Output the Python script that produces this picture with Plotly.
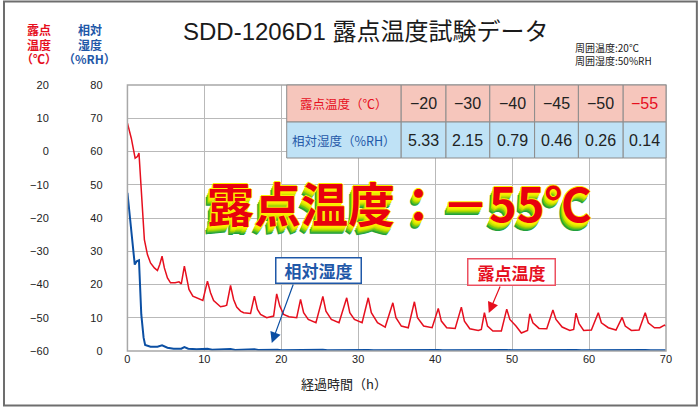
import plotly.graph_objects as go

# ---------------- data ----------------
dew_t = [0, 0.5, 1.0, 1.3, 1.5, 1.8, 2.2, 2.6, 3.0, 3.5, 3.9, 4.2, 4.5, 4.8, 5.2, 5.6, 6.2, 6.7, 7.0, 7.4, 7.7,
         8.0, 8.5, 9.1, 9.8, 10.4, 10.8, 11.2, 11.7, 12.1, 12.6, 12.9, 13.4, 13.8, 14.2, 14.7, 15.1, 16.0,
         16.5, 16.9, 17.3, 18.1, 19.0, 19.4, 19.8, 20.3, 21.0, 22.0, 22.5, 22.9, 23.5, 24.5, 25.4, 25.8,
         26.5, 27.5, 28.5, 28.9, 29.5, 30.5, 31.3, 31.7, 32.5, 33.5, 34.5, 34.9, 35.6, 36.5, 37.3, 37.7,
         38.5, 39.6, 40.4, 40.8, 41.5, 42.6, 43.4, 43.8, 44.5, 45.6, 46.0, 46.4, 46.8, 47.5, 48.6, 49.3,
         49.7, 50.5, 51.2, 52.0, 52.3, 52.7, 53.5, 54.5, 55.3, 55.7, 56.5, 57.5, 58.0, 58.3, 58.7, 59.3,
         60.3, 61.2, 61.6, 62.5, 63.5, 64.3, 64.7, 65.5, 66.5, 67.3, 67.7, 68.5, 69.2, 69.8, 70.0]
dew_v = [8.5, 4.0, -2.0, -1.5, -0.5, -12.0, -26.5, -31.0, -33.5, -35.0, -35.8, -34.0, -31.5, -35.0, -38.0,
         -39.5, -39.5, -39.2, -39.8, -34.5, -38.0, -41.5, -43.5, -44.2, -44.8, -39.0, -42.5, -44.8, -46.0,
         -46.7, -46.5, -46.2, -40.3, -44.5, -46.8, -48.0, -48.5, -48.7, -43.5, -47.5, -49.0, -50.0, -49.5,
         -42.8, -46.5, -49.0, -49.7, -50.0, -44.5, -48.5, -50.5, -51.5, -43.6, -48.0, -50.5, -51.5, -44.0,
         -48.5, -50.5, -51.5, -44.0, -48.5, -51.5, -52.8, -45.5, -50.0, -52.5, -53.0, -45.2, -50.0, -52.5,
         -53.0, -47.2, -51.0, -53.0, -53.2, -46.8, -51.0, -53.3, -53.8, -53.5, -48.5, -52.5, -54.0, -54.0,
         -47.4, -50.5, -52.5, -54.6, -53.8, -48.8, -51.5, -53.2, -53.3, -47.7, -50.5, -52.8, -53.8, -53.5,
         -48.6, -51.8, -53.8, -53.7, -48.5, -51.5, -53.0, -53.7, -49.9, -52.5, -53.8, -53.7, -48.5, -51.5,
         -53.0, -53.0, -52.2, -52.5]

rh_t = [0, 0.5, 0.95, 1.2, 1.5, 1.8, 2.1, 2.3, 3.0, 3.9, 4.5, 5.2, 6.0, 7.0, 7.4, 7.9, 9.0, 10.4, 11.0,
        13.4, 14.0, 16.5, 17.0, 19.5, 20.0, 25.4, 26.0, 31.3, 32.0, 40.4, 41.0, 49.3, 50.0, 58.3, 59.0,
        67.3, 68.0, 70.0]
rh_v = [47.6, 37.0, 26.0, 27.0, 27.3, 11.0, 4.0, 1.8, 1.3, 1.3, 1.7, 1.0, 0.7, 0.7, 1.2, 0.7, 0.5, 0.7, 0.4,
        0.6, 0.3, 0.5, 0.3, 0.4, 0.2, 0.35, 0.2, 0.3, 0.2, 0.3, 0.2, 0.3, 0.2, 0.3, 0.2, 0.3, 0.2, 0.2]

table_dew = [-20, -30, -40, -45, -50, -55]
table_rh = [5.33, 2.15, 0.79, 0.46, 0.26, 0.14]

x_ticks = [0, 10, 20, 30, 40, 50, 60, 70]
rh_ticks = [0, 10, 20, 30, 40, 50, 60, 70, 80]
dew_ticks = [-60, -50, -40, -30, -20, -10, 0, 10, 20]

RED = "#e60f1e"
BLUE = "#0b4fa3"
TXT_BLUE = "#1f58a8"
JP = "Noto Sans CJK JP"

W, H = 700, 408
ML, MR, MT, MB = 0, 34, 85, 57
PW = W - ML - MR     # 666
PH = H - MT - MB     # 266

def px(x):  # pixel x -> paper
    return (x - ML) / PW

def py(y):  # pixel y -> paper
    return 1 - (y - MT) / PH

fig = go.Figure()
fig.add_trace(go.Scatter(x=dew_t, y=dew_v, yaxis="y2", mode="lines",
                         line=dict(color=RED, width=1.5), hoverinfo="skip"))
fig.add_trace(go.Scatter(x=rh_t, y=rh_v, yaxis="y", mode="lines",
                         line=dict(color=BLUE, width=2), hoverinfo="skip"))

tickfont = dict(family="Liberation Sans, Arial", size=11, color="#222")
fig.update_layout(
    width=W, height=H, margin=dict(l=ML, r=MR, t=MT, b=MB),
    paper_bgcolor="white", plot_bgcolor="white", showlegend=False,
    xaxis=dict(domain=[px(125), 1], range=[0, 70], tickvals=x_ticks, ticks="",
               showgrid=True, gridcolor="#b9b9b9", gridwidth=1, zeroline=False,
               showline=False, tickfont=tickfont),
    yaxis=dict(range=[0, 80], tickvals=rh_ticks, anchor="free", position=px(100),
               showgrid=True, gridcolor="#b9b9b9", gridwidth=1, zeroline=False,
               showline=False, ticks="", tickfont=tickfont),
    yaxis2=dict(range=[-60, 20], tickvals=dew_ticks, anchor="free", position=px(46),
                overlaying="y", showgrid=False, zeroline=False, showline=False, ticks="",
                tickfont=tickfont,
                ticktext=[str(v).replace("-", "\u2212") for v in dew_ticks]),
)

shapes = []
# outer frame
shapes.append(dict(type="rect", xref="paper", yref="paper", x0=px(1), x1=px(697), y0=py(405.5), y1=py(1.5),
                   line=dict(color="#6e6e6e", width=2), layer="below"))
# plot border
shapes.append(dict(type="rect", xref="x domain", yref="y domain", x0=0, x1=1, y0=0, y1=1,
                   line=dict(color="#a8a8a8", width=1.5), layer="above"))

annotations = []

def label(xp, yp, text, font, **kw):
    d = dict(xref="paper", yref="paper", x=px(xp), y=py(yp), text=text, showarrow=False,
             xanchor="center", yanchor="middle", font=font)
    d.update(kw)
    annotations.append(d)

# table
col_edges = [285, 400, 445, 489, 534, 578, 623, 666]
row_edges = [85, 122, 158]
row_fill = ["#f6c6bc", "#bfe2f6"]
for r in range(2):
    for c in range(len(col_edges) - 1):
        shapes.append(dict(type="rect", xref="paper", yref="paper",
                           x0=px(col_edges[c]), x1=px(col_edges[c + 1]),
                           y0=py(row_edges[r + 1]), y1=py(row_edges[r]),
                           fillcolor=row_fill[r], line=dict(color="#8c8c8c", width=1), layer="above"))
row_labels = ["露点温度（℃）", "相対湿度（%RH）"]
row_colors = [RED, TXT_BLUE]
for r in range(2):
    label((col_edges[0] + col_edges[1]) / 2, (row_edges[r] + row_edges[r + 1]) / 2, row_labels[r],
          dict(family=JP, size=12.5, color=row_colors[r]))
for i, (d, h) in enumerate(zip(table_dew, table_rh)):
    cx = (col_edges[i + 1] + col_edges[i + 2]) / 2
    label(cx, (row_edges[0] + row_edges[1]) / 2, str(d).replace("-", "\u2212"),
          dict(family="Liberation Sans, Arial", size=16, color=RED if d == min(table_dew) else "#222"))
    label(cx, (row_edges[1] + row_edges[2]) / 2, f"{h:.2f}",
          dict(family="Liberation Sans, Arial", size=16, color="#222"))

# title + notes
label(364, 31, "SDD-1206D1 露点温度試験データ", dict(family="Liberation Sans, " + JP, size=24, color="#1a1a1a"))
label(574, 47, "周囲温度:20℃", dict(family=JP, size=10, color="#1a1a1a"), xanchor="left", height=13, borderpad=0)
label(574, 60, "周囲湿度:50%RH", dict(family=JP, size=10, color="#1a1a1a"), xanchor="left", height=13, borderpad=0)
# axis titles (one line each)
for i, t in enumerate(["露点", "温度", "（℃）"]):
    label(36, 29 + 15 * i, f"<b>{t}</b>", dict(family=JP, size=12, color=RED), height=15, borderpad=0)
for i, t in enumerate(["相対", "湿度", "（%RH）"]):
    label(87, 29 + 15 * i, f"<b>{t}</b>", dict(family=JP, size=12, color=TXT_BLUE), height=15, borderpad=0)
label(343, 383, "経過時間（h）", dict(family=JP, size=13, color="#222"))

# big text
shadow = ("1px 0 0 #ffef00, -1px 0 0 #ffef00, 0 1px 0 #ffef00, 0 -1px 0 #ffef00, "
          "-1px 2px 0 #f6ee00, -1px 3px 0 #e4ea00, -2px 4px 0 #c8e000, -2px 5px 0 #a0d400, "
          "-3px 6px 0 #70c418, -3px 7px 0 #40b030, -4px 8px 0 #20a03c")
label(398, 201, "<b>露点温度：－55℃</b>", dict(family=JP, size=47, color="#e8000e", shadow=shadow))

# arrows + callouts
annotations.append(dict(x=18.76, y=2.4, xref="x", yref="y", text="", showarrow=True,
                        ax=22, ay=-60, arrowhead=2, arrowsize=1.8, arrowwidth=1.2, arrowcolor=BLUE))
annotations.append(dict(x=46.96, y=11.4, xref="x", yref="y", text="", showarrow=True,
                        ax=12, ay=-28, arrowhead=2, arrowsize=1.8, arrowwidth=1.2, arrowcolor=RED))
label(316.5, 270, "<b>相対湿度</b>", dict(family=JP, size=17, color=TXT_BLUE),
      bgcolor="white", bordercolor=TXT_BLUE, borderwidth=1.5, width=82, height=22, borderpad=1)
label(511, 271.5, "<b>露点温度</b>", dict(family=JP, size=17, color=RED),
      bgcolor="white", bordercolor="#ec5060", borderwidth=1.5, width=84, height=23, borderpad=1)

fig.update_layout(shapes=shapes, annotations=annotations)
fig.write_html("out.html", config={"displayModeBar": False},
               post_script="document.body.style.margin='0';document.body.style.overflow='hidden';")
